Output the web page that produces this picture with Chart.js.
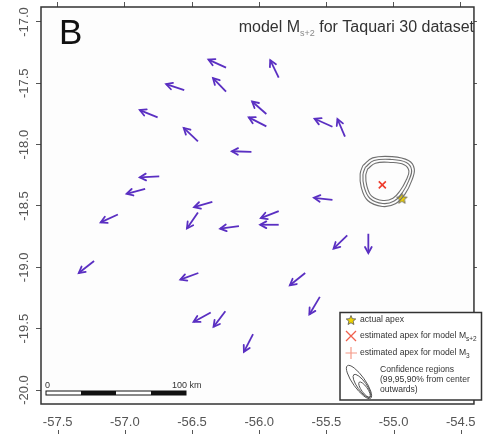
<!DOCTYPE html>
<html>
<head>
<meta charset="utf-8">
<script src="https://cdn.jsdelivr.net/npm/chart.js@4.4.1/dist/chart.umd.min.js"></script>
<style>
  html, body { margin: 0; padding: 0; background: #fff; }
  #wrap { width: 487px; height: 434px; }
</style>
</head>
<body>
<div id="wrap"><canvas id="chartApex" width="487" height="434"></canvas></div>
<script>
// ejes (longitud / latitud)
const xTicks = [-57.5, -57.0, -56.5, -56.0, -55.5, -55.0, -54.5];
const yTicks = [-20.0, -19.5, -19.0, -18.5, -18.0, -17.5, -17.0];

// flechas: cola (tail) -> punta (head)
const tailX = [-56.247, -55.855, -56.558, -56.247, -56.756, -55.947, -55.947, -55.455, -55.362, -56.456,
               -56.058, -56.744, -56.849, -56.349, -57.052, -56.456, -55.855, -55.855, -56.151, -55.455,
               -55.345, -55.188, -57.229, -56.453, -55.658, -55.549, -56.361, -56.252, -56.046];
const tailY = [-17.372, -17.453, -17.555, -17.567, -17.778, -17.750, -17.851, -17.854, -17.935, -17.973,
               -18.059, -18.258, -18.360, -18.466, -18.569, -18.553, -18.542, -18.653, -18.664, -18.450,
               -18.740, -18.726, -18.949, -19.046, -19.046, -19.241, -19.368, -19.358, -19.545];
const headX = [-56.378, -55.918, -56.693, -56.344, -56.889, -56.053, -56.078, -55.588, -55.418, -56.562,
               -56.204, -56.889, -56.987, -56.485, -57.180, -56.538, -55.988, -55.993, -56.291, -55.593,
               -55.447, -55.188, -57.343, -56.587, -55.772, -55.627, -56.489, -56.340, -56.114];
const headY = [-17.307, -17.311, -17.507, -17.458, -17.718, -17.648, -17.778, -17.789, -17.791, -17.864,
               -18.054, -18.266, -18.401, -18.510, -18.634, -18.683, -18.599, -18.653, -18.685, -18.433,
               -18.848, -18.884, -19.046, -19.100, -19.146, -19.384, -19.445, -19.485, -19.689];

// apex real y estimado
const actualApexX = [-54.938];
const actualApexY = [-18.437];
const estApexX = [-55.084];
const estApexY = [-18.328];

// regiones de confianza (99 adentro, 90 afuera)
const conf99X = [-55.193, -55.135, -55.023, -54.922, -54.886, -54.909, -54.952, -55.005, -55.079, -55.163, -55.199, -55.207];
const conf99Y = [-18.198, -18.151, -18.145, -18.163, -18.216, -18.294, -18.376, -18.437, -18.455, -18.420, -18.336, -18.252];
const conf95X = [-55.211, -55.146, -55.017, -54.905, -54.866, -54.887, -54.933, -54.996, -55.081, -55.177, -55.220, -55.228];
const conf95Y = [-18.185, -18.130, -18.121, -18.146, -18.207, -18.293, -18.388, -18.460, -18.480, -18.437, -18.341, -18.246];
const conf90X = [-55.229, -55.156, -55.011, -54.889, -54.846, -54.865, -54.914, -54.987, -55.084, -55.193, -55.241, -55.249];
const conf90Y = [-18.171, -18.108, -18.098, -18.130, -18.198, -18.293, -18.401, -18.482, -18.504, -18.455, -18.347, -18.238];

const purple = '#5a2fc2';
const labelFont = { family: 'Liberation Sans, Arial, sans-serif', size: 13 };

function toPoints(xs, ys, close) {
    const pts = xs.map((x, i) => ({ x: x, y: ys[i] }));
    if (close) pts.push({ x: xs[0], y: ys[0] });
    return pts;
}

// estrella rellena para el apex real
function makeStar(size) {
    const c = document.createElement('canvas');
    c.width = size; c.height = size;
    const g = c.getContext('2d');
    const cx = size / 2, cy = size / 2 + 0.5, R = size / 2 - 1, r = R * 0.45;
    g.beginPath();
    for (let k = 0; k < 10; k++) {
        const rad = k % 2 === 0 ? R : r;
        const a = -Math.PI / 2 + k * Math.PI / 5;
        g.lineTo(cx + rad * Math.cos(a), cy + rad * Math.sin(a));
    }
    g.closePath();
    g.fillStyle = '#f0d400';
    g.fill();
    g.strokeStyle = '#555';
    g.lineWidth = 0.8;
    g.stroke();
    return c;
}
const starImg = makeStar(13);
const starSmall = makeStar(12);

const datasets = [];
tailX.forEach((x0, i) => {
    datasets.push({
        isArrow: true,
        data: [{ x: x0, y: tailY[i] }, { x: headX[i], y: headY[i] }],
        showLine: true,
        borderColor: purple,
        borderWidth: 1.8,
        pointRadius: 0
    });
});
[[conf99X, conf99Y], [conf95X, conf95Y], [conf90X, conf90Y]].forEach(c => {
    datasets.push({
        data: toPoints(c[0], c[1], true),
        showLine: true,
        tension: 0.4,
        borderColor: '#707070',
        borderWidth: 1.1,
        pointRadius: 0
    });
});
datasets.push({
    data: toPoints(estApexX, estApexY),
    pointStyle: 'crossRot',
    pointRadius: 5,
    borderColor: '#ee3b2b',
    borderWidth: 1.6
});
datasets.push({
    data: toPoints(actualApexX, actualApexY),
    pointStyle: starImg,
    pointRadius: 6
});

const arrowHeads = {
    id: 'arrowHeads',
    afterDatasetsDraw(chart) {
        const ctx = chart.ctx;
        ctx.save();
        ctx.strokeStyle = purple;
        ctx.lineWidth = 1.8;
        ctx.lineCap = 'round';
        chart.data.datasets.forEach((ds, i) => {
            if (!ds.isArrow) return;
            const pts = chart.getDatasetMeta(i).data;
            const a = pts[0], b = pts[1];
            const ang = Math.atan2(b.y - a.y, b.x - a.x);
            const len = 7, spread = 0.5;
            ctx.beginPath();
            ctx.moveTo(b.x - len * Math.cos(ang - spread), b.y - len * Math.sin(ang - spread));
            ctx.lineTo(b.x, b.y);
            ctx.lineTo(b.x - len * Math.cos(ang + spread), b.y - len * Math.sin(ang + spread));
            ctx.stroke();
        });
        ctx.restore();
    }
};

// marco, titulo, leyenda y barra de escala
const decorations = {
    id: 'decorations',
    beforeDatasetsDraw(chart) {
        const { ctx, chartArea: ca } = chart;
        ctx.save();
        ctx.fillStyle = '#fdfdfd';
        ctx.fillRect(ca.left, ca.top, ca.right - ca.left, ca.bottom - ca.top);
        ctx.restore();
    },
    afterDraw(chart) {
        const { ctx, chartArea: ca, scales } = chart;
        const ff = 'Liberation Sans, Arial, sans-serif';
        ctx.save();

        // marco
        ctx.strokeStyle = '#333';
        ctx.lineWidth = 1.5;
        ctx.strokeRect(ca.left, ca.top, ca.right - ca.left, ca.bottom - ca.top);

        // marcas bajo las etiquetas del eje x
        ctx.strokeStyle = '#555';
        ctx.lineWidth = 1;
        xTicks.forEach(v => {
            const px = Math.round(scales.x.getPixelForValue(v)) + 0.5;
            ctx.beginPath();
            ctx.moveTo(px, 430);
            ctx.lineTo(px, 434);
            ctx.stroke();
        });

        // letra del panel
        ctx.fillStyle = '#111';
        ctx.font = '35px ' + ff;
        ctx.textBaseline = 'alphabetic';
        ctx.fillText('B', 59, 44);

        // titulo con subindice
        const mainFont = '16px ' + ff, subFont = '9px ' + ff;
        ctx.font = mainFont;
        const w1 = ctx.measureText('model M').width;
        const w3 = ctx.measureText(' for Taquari 30 dataset').width;
        ctx.font = subFont;
        const w2 = ctx.measureText('s+2').width;
        let tx = 474 - (w1 + w2 + w3);
        ctx.fillStyle = '#333';
        ctx.font = mainFont;
        ctx.fillText('model M', tx, 32);
        ctx.fillStyle = '#888';
        ctx.font = subFont;
        ctx.fillText('s+2', tx + w1, 36);
        ctx.fillStyle = '#333';
        ctx.font = mainFont;
        ctx.fillText(' for Taquari 30 dataset', tx + w1 + w2, 32);

        // leyenda
        const lx = 340, ly = 312.5, lw = 141.5, lh = 87.5;
        ctx.fillStyle = '#fff';
        ctx.fillRect(lx, ly, lw, lh);
        ctx.strokeStyle = '#333';
        ctx.lineWidth = 1.5;
        ctx.strokeRect(lx, ly, lw, lh);

        ctx.drawImage(starSmall, 345, 314);

        ctx.strokeStyle = '#f0604c';
        ctx.lineWidth = 1.3;
        ctx.beginPath();
        ctx.moveTo(346, 331); ctx.lineTo(356, 341);
        ctx.moveTo(356, 331); ctx.lineTo(346, 341);
        ctx.stroke();

        ctx.strokeStyle = '#f59a88';
        ctx.lineWidth = 1.2;
        ctx.beginPath();
        ctx.moveTo(345.5, 353); ctx.lineTo(357, 353);
        ctx.moveTo(351, 347); ctx.lineTo(351, 359);
        ctx.stroke();

        ctx.strokeStyle = '#555';
        ctx.lineWidth = 1;
        [[359, 382, 20, 6], [362, 386, 14, 4.5], [364.5, 389.5, 9, 3]].forEach(e => {
            ctx.beginPath();
            ctx.ellipse(e[0], e[1], e[2], e[3], 0.95, 0, Math.PI * 2);
            ctx.stroke();
        });

        ctx.fillStyle = '#333';
        ctx.textBaseline = 'middle';
        ctx.font = '8.6px ' + ff;
        ctx.fillText('actual apex', 360, 320);
        const wEst = ctx.measureText('estimated apex for model M').width;
        ctx.fillText('estimated apex for model M', 360, 336);
        ctx.fillText('estimated apex for model M', 360, 353);
        ctx.font = '6.5px ' + ff;
        ctx.fillText('s+2', 360 + wEst, 339);
        ctx.fillText('3', 360 + wEst, 356);
        ctx.font = '8.6px ' + ff;
        ctx.fillText('Confidence regions', 380, 370);
        ctx.fillText('(99,95,90% from center', 380, 380);
        ctx.fillText('outwards)', 380, 390);

        // barra de escala
        const bx = 46, by = 391, segW = 35, bh = 4;
        ['#fff', '#111', '#fff', '#111'].forEach((col, k) => {
            ctx.fillStyle = col;
            ctx.fillRect(bx + k * segW, by, segW, bh);
        });
        ctx.strokeStyle = '#111';
        ctx.lineWidth = 1;
        ctx.strokeRect(bx, by, segW * 4, bh);
        ctx.fillStyle = '#333';
        ctx.textBaseline = 'alphabetic';
        ctx.font = '9px ' + ff;
        ctx.fillText('0', 45, 388);
        ctx.fillText('100 km', 172, 388);

        ctx.restore();
    }
};

function fixTicks(list) {
    return scale => { scale.ticks = list.map(v => ({ value: v })); };
}

new Chart(document.getElementById('chartApex').getContext('2d'), {
    type: 'scatter',
    data: { datasets: datasets },
    options: {
        responsive: false,
        animation: false,
        devicePixelRatio: 1,
        layout: { padding: 0 },
        plugins: { legend: { display: false }, tooltip: { enabled: false } },
        scales: {
            x: {
                type: 'linear', position: 'bottom',
                min: -57.624, max: -54.402,
                afterBuildTicks: fixTicks(xTicks),
                afterFit: s => { s.height = 30; },
                grid: { drawOnChartArea: false, drawTicks: false },
                border: { display: false },
                ticks: { color: '#555', font: labelFont, padding: 11, maxRotation: 0,
                         callback: v => v.toFixed(1) }
            },
            x2: {
                type: 'linear', position: 'top',
                min: -57.624, max: -54.402,
                afterBuildTicks: fixTicks(xTicks),
                afterFit: s => { s.height = 6; },
                grid: { drawOnChartArea: false, tickLength: 5, color: '#555' },
                border: { display: false },
                ticks: { display: false }
            },
            y: {
                type: 'linear', position: 'left',
                min: -20.114, max: -16.878,
                afterBuildTicks: fixTicks(yTicks),
                afterFit: s => { s.width = 41; },
                grid: { drawOnChartArea: false, tickLength: 5, color: '#555' },
                border: { display: false },
                ticks: { color: '#555', font: labelFont, padding: -3, minRotation: 90, maxRotation: 90,
                         crossAlign: 'center', callback: v => v.toFixed(1) }
            },
            y2: {
                type: 'linear', position: 'right',
                min: -20.114, max: -16.878,
                afterBuildTicks: fixTicks(yTicks),
                afterFit: s => { s.width = 3; },
                grid: { drawOnChartArea: false, tickLength: 3, color: '#555' },
                border: { display: false },
                ticks: { display: false }
            }
        }
    },
    plugins: [arrowHeads, decorations]
});
</script>
</body>
</html>
